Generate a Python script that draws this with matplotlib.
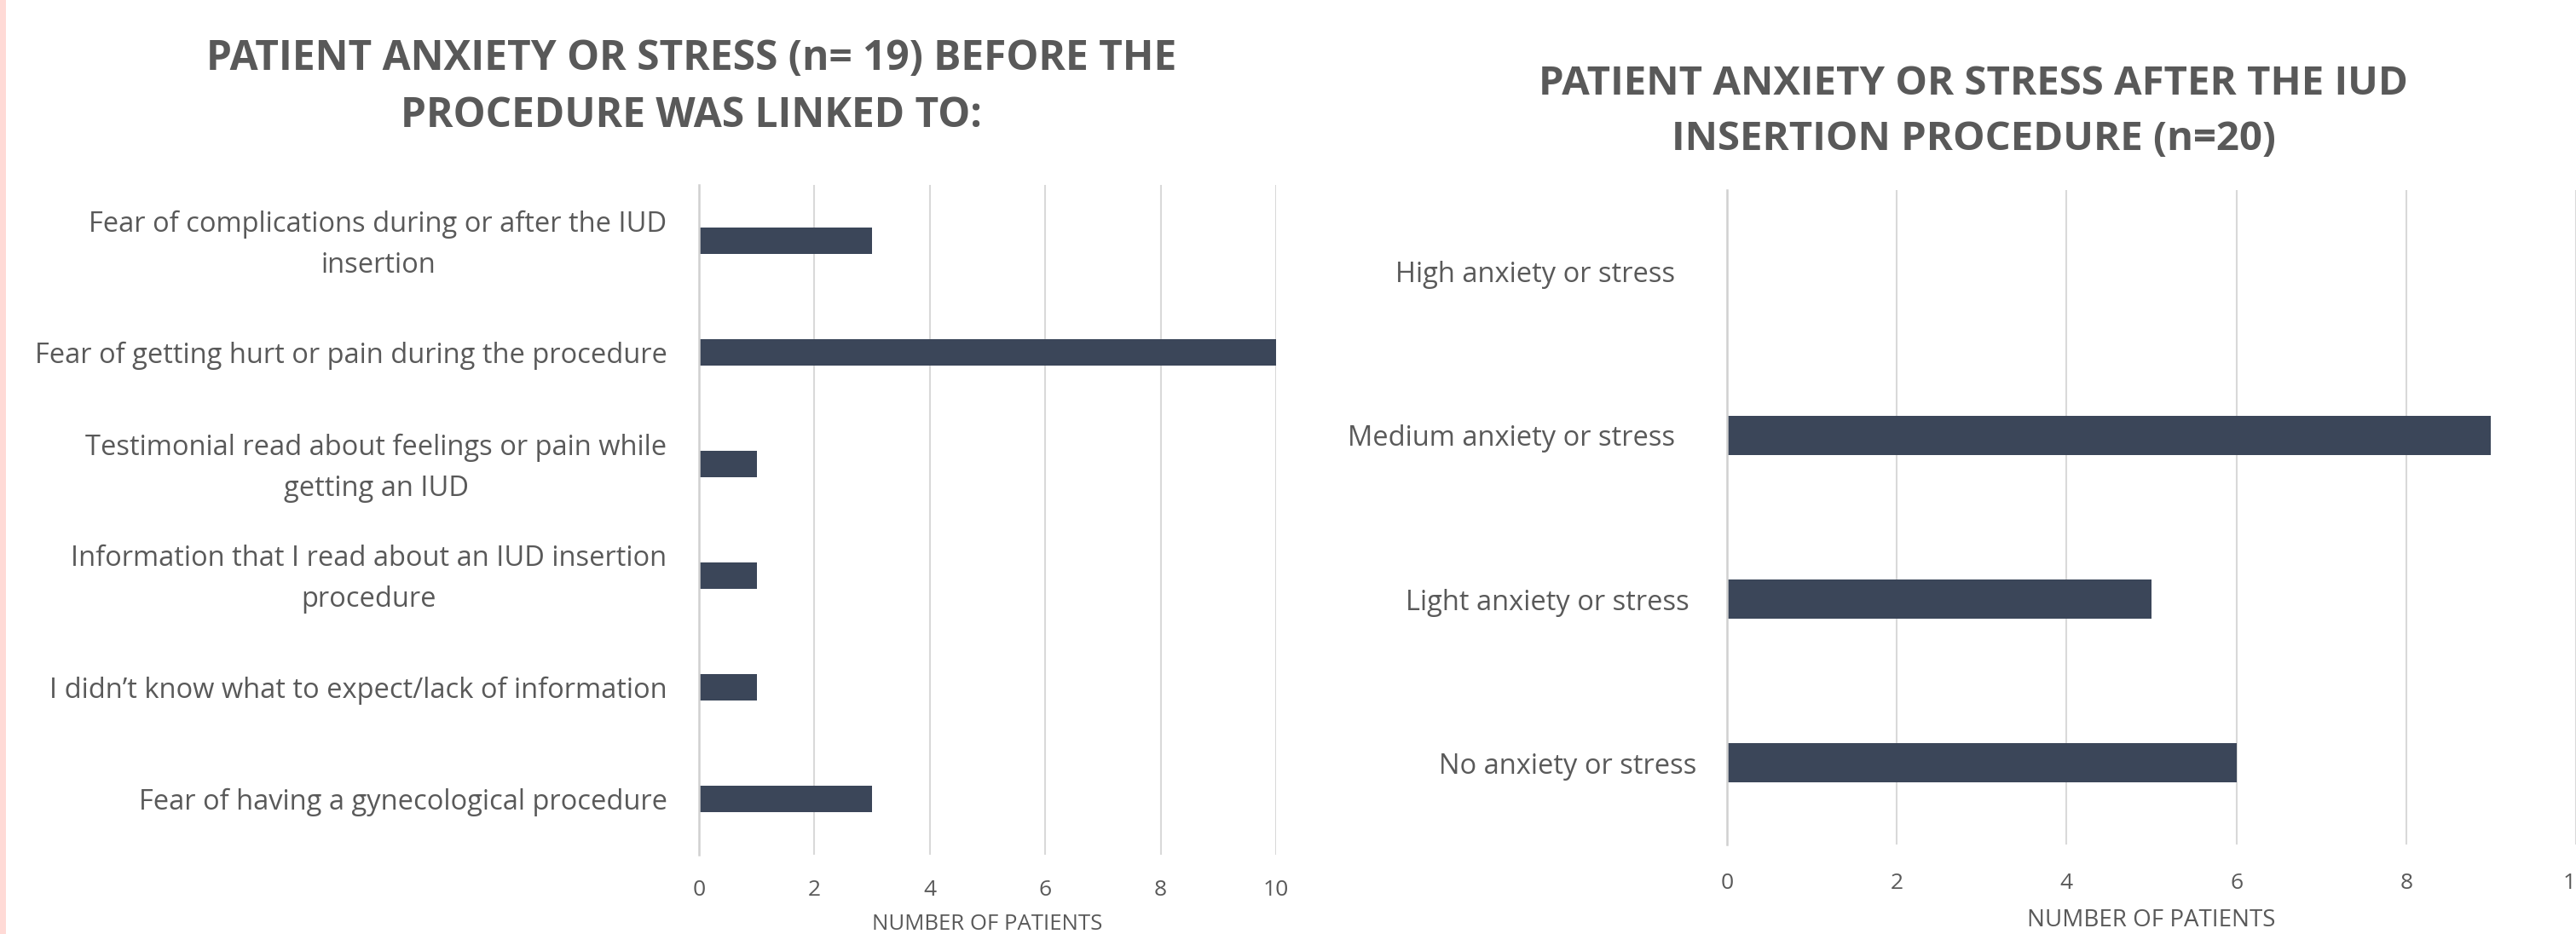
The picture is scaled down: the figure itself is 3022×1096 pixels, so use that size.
import matplotlib
matplotlib.use("Agg")
import matplotlib.pyplot as plt
from matplotlib.patches import Rectangle
from matplotlib.transforms import ScaledTranslation

# data, top to bottom
before_labels = [
    "Fear of complications during or after the IUD\ninsertion",
    "Fear of getting hurt or pain during the procedure",
    "Testimonial read about feelings or pain while\ngetting an IUD",
    "Information that I read about an IUD insertion\nprocedure",
    "I didn\u2019t know what to expect/lack of information",
    "Fear of having a gynecological procedure",
]
before_counts = [3, 10, 1, 1, 1, 3]

after_labels = [
    "High anxiety or stress",
    "Medium anxiety or stress",
    "Light anxiety or stress",
    "No anxiety or stress",
]
after_counts = [0, 9, 5, 6]

x_ticks = [0, 2, 4, 6, 8, 10]

TEXT = "#595959"
BAR = "#3B4659"
GRID = "#D9D9D9"

plt.rcParams["font.family"] = ["Open Sans", "DejaVu Sans"]

W, H = 3022, 1096
fig = plt.figure(figsize=(W / 100, H / 100), dpi=100)
fig.patch.set_facecolor("white")

# pink strip on the left edge
fig.patches.append(Rectangle((0, 0), 7 / W, 1, transform=fig.transFigure,
                             facecolor="#FFDAD6", edgecolor="none"))


def px_axes(x0, y0, x1, y1):
    return fig.add_axes([x0 / W, 1 - y1 / H, (x1 - x0) / W, (y1 - y0) / H])


def style(ax, n):
    ax.set_xlim(0, 10)
    ax.set_ylim(n - 0.5, -0.5)
    ax.set_xticks(x_ticks)
    ax.set_axisbelow(True)
    ax.grid(axis="x", color=GRID, linewidth=1.5)
    for s in ["top", "right", "bottom"]:
        ax.spines[s].set_visible(False)
    ax.spines["left"].set_color("#D0D0D0")
    ax.spines["left"].set_linewidth(1.8)
    ax.tick_params(length=0, colors=TEXT)


def nudge(lbl, dx, dy):
    lbl.set_transform(lbl.get_transform() + ScaledTranslation(dx / 100, dy / 100, fig.dpi_scale_trans))


# left chart
ax1 = px_axes(820, 217, 1497, 1003)
ax1.barh(range(len(before_counts)), before_counts, height=0.235, color=BAR)
style(ax1, len(before_counts))
ax1.set_yticks(range(len(before_labels)))
ax1.set_yticklabels(before_labels, fontsize=23.5, color=TEXT,
                    multialignment="center", linespacing=1.6)
ax1.tick_params(axis="y", pad=27)
ax1.tick_params(axis="x", pad=21, labelsize=19)
ax1.set_xlabel("NUMBER OF PATIENTS", fontsize=18.5, color=TEXT, labelpad=11)
# two-line labels sit a bit higher in the original
for lbl in ax1.get_yticklabels():
    if "\n" in lbl.get_text():
        nudge(lbl, 0, 7)

# right chart
ax2 = px_axes(2026, 223, 3022, 991)
ax2.barh(range(len(after_counts)), after_counts, height=0.235, color=BAR)
style(ax2, len(after_counts))
ax2.set_yticks(range(len(after_labels)))
ax2.set_yticklabels(after_labels, fontsize=23.5, color=TEXT)
ax2.tick_params(axis="y", pad=26)
ax2.tick_params(axis="x", pad=24, labelsize=19)
ax2.set_xlabel("NUMBER OF PATIENTS", fontsize=20, color=TEXT, labelpad=12)
# labels in the original sit a little further left for some rows
shifts = [-25, -25, -8, 0]
for lbl, dx in zip(ax2.get_yticklabels(), shifts):
    nudge(lbl, dx, 0)

fig.text(811 / W, 1 - 103 / H,
         "PATIENT ANXIETY OR STRESS (n= 19) BEFORE THE\nPROCEDURE WAS LINKED TO:",
         ha="center", va="center", fontsize=34.5, fontweight="bold", color=TEXT,
         linespacing=1.5)
fig.text(2315 / W, 1 - 131 / H,
         "PATIENT ANXIETY OR STRESS AFTER THE IUD\nINSERTION PROCEDURE (n=20)",
         ha="center", va="center", fontsize=34, fontweight="bold", color=TEXT,
         linespacing=1.5)

fig.savefig("out.png", dpi=100)
